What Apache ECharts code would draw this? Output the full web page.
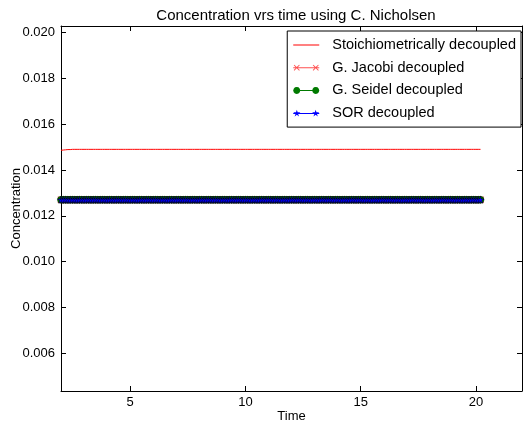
<!DOCTYPE html>
<html>
<head>
<meta charset="utf-8">
<script src="https://cdn.jsdelivr.net/npm/echarts@6/dist/echarts.min.js"></script>
<style>html,body{margin:0;padding:0;background:#fff}#c{width:531px;height:425px}</style>
</head>
<body>
<div id="c"></div>
<script>
const titleText = 'Concentration vrs time using C. Nicholsen';
const seriesNames = ['Stoichiometrically decoupled', 'G. Jacobi decoupled', 'G. Seidel decoupled', 'SOR decoupled'];
const xTicks = [5, 10, 15, 20];
const yTicks = [0.006, 0.008, 0.010, 0.012, 0.014, 0.016, 0.018, 0.020];

const time = [
  2.0,2.1,2.2,2.3,2.4,2.5,2.6,2.7,2.8,2.9,
  3.0,3.1,3.2,3.3,3.4,3.5,3.6,3.7,3.8,3.9,
  4.0,4.1,4.2,4.3,4.4,4.5,4.6,4.7,4.8,4.9,
  5.0,5.1,5.2,5.3,5.4,5.5,5.6,5.7,5.8,5.9,
  6.0,6.1,6.2,6.3,6.4,6.5,6.6,6.7,6.8,6.9,
  7.0,7.1,7.2,7.3,7.4,7.5,7.6,7.7,7.8,7.9,
  8.0,8.1,8.2,8.3,8.4,8.5,8.6,8.7,8.8,8.9,
  9.0,9.1,9.2,9.3,9.4,9.5,9.6,9.7,9.8,9.9,
  10.0,10.1,10.2,10.3,10.4,10.5,10.6,10.7,10.8,10.9,
  11.0,11.1,11.2,11.3,11.4,11.5,11.6,11.7,11.8,11.9,
  12.0,12.1,12.2,12.3,12.4,12.5,12.6,12.7,12.8,12.9,
  13.0,13.1,13.2,13.3,13.4,13.5,13.6,13.7,13.8,13.9,
  14.0,14.1,14.2,14.3,14.4,14.5,14.6,14.7,14.8,14.9,
  15.0,15.1,15.2,15.3,15.4,15.5,15.6,15.7,15.8,15.9,
  16.0,16.1,16.2,16.3,16.4,16.5,16.6,16.7,16.8,16.9,
  17.0,17.1,17.2,17.3,17.4,17.5,17.6,17.7,17.8,17.9,
  18.0,18.1,18.2,18.3,18.4,18.5,18.6,18.7,18.8,18.9,
  19.0,19.1,19.2,19.3,19.4,19.5,19.6,19.7,19.8,19.9,
  20.0,20.1,20.2
];
const stoich = [
  0.01486,0.01487,0.01488,0.01489,0.01489,0.0149,0.0149,0.0149,0.0149,0.0149,
  0.0149,0.0149,0.0149,0.0149,0.0149,0.0149,0.0149,0.0149,0.0149,0.0149,
  0.0149,0.0149,0.0149,0.0149,0.0149,0.0149,0.0149,0.0149,0.0149,0.0149,
  0.0149,0.0149,0.0149,0.0149,0.0149,0.0149,0.0149,0.0149,0.0149,0.0149,
  0.0149,0.0149,0.0149,0.0149,0.0149,0.0149,0.0149,0.0149,0.0149,0.0149,
  0.0149,0.0149,0.0149,0.0149,0.0149,0.0149,0.0149,0.0149,0.0149,0.0149,
  0.0149,0.0149,0.0149,0.0149,0.0149,0.0149,0.0149,0.0149,0.0149,0.0149,
  0.0149,0.0149,0.0149,0.0149,0.0149,0.0149,0.0149,0.0149,0.0149,0.0149,
  0.0149,0.0149,0.0149,0.0149,0.0149,0.0149,0.0149,0.0149,0.0149,0.0149,
  0.0149,0.0149,0.0149,0.0149,0.0149,0.0149,0.0149,0.0149,0.0149,0.0149,
  0.0149,0.0149,0.0149,0.0149,0.0149,0.0149,0.0149,0.0149,0.0149,0.0149,
  0.0149,0.0149,0.0149,0.0149,0.0149,0.0149,0.0149,0.0149,0.0149,0.0149,
  0.0149,0.0149,0.0149,0.0149,0.0149,0.0149,0.0149,0.0149,0.0149,0.0149,
  0.0149,0.0149,0.0149,0.0149,0.0149,0.0149,0.0149,0.0149,0.0149,0.0149,
  0.0149,0.0149,0.0149,0.0149,0.0149,0.0149,0.0149,0.0149,0.0149,0.0149,
  0.0149,0.0149,0.0149,0.0149,0.0149,0.0149,0.0149,0.0149,0.0149,0.0149,
  0.0149,0.0149,0.0149,0.0149,0.0149,0.0149,0.0149,0.0149,0.0149,0.0149,
  0.0149,0.0149,0.0149,0.0149,0.0149,0.0149,0.0149,0.0149,0.0149,0.0149,
  0.0149,0.0149,0.0149
];
const jacobi = [
  0.0127,0.0127,0.0127,0.0127,0.0127,0.0127,0.0127,0.0127,0.0127,0.0127,
  0.0127,0.0127,0.0127,0.0127,0.0127,0.0127,0.0127,0.0127,0.0127,0.0127,
  0.0127,0.0127,0.0127,0.0127,0.0127,0.0127,0.0127,0.0127,0.0127,0.0127,
  0.0127,0.0127,0.0127,0.0127,0.0127,0.0127,0.0127,0.0127,0.0127,0.0127,
  0.0127,0.0127,0.0127,0.0127,0.0127,0.0127,0.0127,0.0127,0.0127,0.0127,
  0.0127,0.0127,0.0127,0.0127,0.0127,0.0127,0.0127,0.0127,0.0127,0.0127,
  0.0127,0.0127,0.0127,0.0127,0.0127,0.0127,0.0127,0.0127,0.0127,0.0127,
  0.0127,0.0127,0.0127,0.0127,0.0127,0.0127,0.0127,0.0127,0.0127,0.0127,
  0.0127,0.0127,0.0127,0.0127,0.0127,0.0127,0.0127,0.0127,0.0127,0.0127,
  0.0127,0.0127,0.0127,0.0127,0.0127,0.0127,0.0127,0.0127,0.0127,0.0127,
  0.0127,0.0127,0.0127,0.0127,0.0127,0.0127,0.0127,0.0127,0.0127,0.0127,
  0.0127,0.0127,0.0127,0.0127,0.0127,0.0127,0.0127,0.0127,0.0127,0.0127,
  0.0127,0.0127,0.0127,0.0127,0.0127,0.0127,0.0127,0.0127,0.0127,0.0127,
  0.0127,0.0127,0.0127,0.0127,0.0127,0.0127,0.0127,0.0127,0.0127,0.0127,
  0.0127,0.0127,0.0127,0.0127,0.0127,0.0127,0.0127,0.0127,0.0127,0.0127,
  0.0127,0.0127,0.0127,0.0127,0.0127,0.0127,0.0127,0.0127,0.0127,0.0127,
  0.0127,0.0127,0.0127,0.0127,0.0127,0.0127,0.0127,0.0127,0.0127,0.0127,
  0.0127,0.0127,0.0127,0.0127,0.0127,0.0127,0.0127,0.0127,0.0127,0.0127,
  0.0127,0.0127,0.0127
];
const seidel = [
  0.0127,0.0127,0.0127,0.0127,0.0127,0.0127,0.0127,0.0127,0.0127,0.0127,
  0.0127,0.0127,0.0127,0.0127,0.0127,0.0127,0.0127,0.0127,0.0127,0.0127,
  0.0127,0.0127,0.0127,0.0127,0.0127,0.0127,0.0127,0.0127,0.0127,0.0127,
  0.0127,0.0127,0.0127,0.0127,0.0127,0.0127,0.0127,0.0127,0.0127,0.0127,
  0.0127,0.0127,0.0127,0.0127,0.0127,0.0127,0.0127,0.0127,0.0127,0.0127,
  0.0127,0.0127,0.0127,0.0127,0.0127,0.0127,0.0127,0.0127,0.0127,0.0127,
  0.0127,0.0127,0.0127,0.0127,0.0127,0.0127,0.0127,0.0127,0.0127,0.0127,
  0.0127,0.0127,0.0127,0.0127,0.0127,0.0127,0.0127,0.0127,0.0127,0.0127,
  0.0127,0.0127,0.0127,0.0127,0.0127,0.0127,0.0127,0.0127,0.0127,0.0127,
  0.0127,0.0127,0.0127,0.0127,0.0127,0.0127,0.0127,0.0127,0.0127,0.0127,
  0.0127,0.0127,0.0127,0.0127,0.0127,0.0127,0.0127,0.0127,0.0127,0.0127,
  0.0127,0.0127,0.0127,0.0127,0.0127,0.0127,0.0127,0.0127,0.0127,0.0127,
  0.0127,0.0127,0.0127,0.0127,0.0127,0.0127,0.0127,0.0127,0.0127,0.0127,
  0.0127,0.0127,0.0127,0.0127,0.0127,0.0127,0.0127,0.0127,0.0127,0.0127,
  0.0127,0.0127,0.0127,0.0127,0.0127,0.0127,0.0127,0.0127,0.0127,0.0127,
  0.0127,0.0127,0.0127,0.0127,0.0127,0.0127,0.0127,0.0127,0.0127,0.0127,
  0.0127,0.0127,0.0127,0.0127,0.0127,0.0127,0.0127,0.0127,0.0127,0.0127,
  0.0127,0.0127,0.0127,0.0127,0.0127,0.0127,0.0127,0.0127,0.0127,0.0127,
  0.0127,0.0127,0.0127
];
const sor = [
  0.0127,0.0127,0.0127,0.0127,0.0127,0.0127,0.0127,0.0127,0.0127,0.0127,
  0.0127,0.0127,0.0127,0.0127,0.0127,0.0127,0.0127,0.0127,0.0127,0.0127,
  0.0127,0.0127,0.0127,0.0127,0.0127,0.0127,0.0127,0.0127,0.0127,0.0127,
  0.0127,0.0127,0.0127,0.0127,0.0127,0.0127,0.0127,0.0127,0.0127,0.0127,
  0.0127,0.0127,0.0127,0.0127,0.0127,0.0127,0.0127,0.0127,0.0127,0.0127,
  0.0127,0.0127,0.0127,0.0127,0.0127,0.0127,0.0127,0.0127,0.0127,0.0127,
  0.0127,0.0127,0.0127,0.0127,0.0127,0.0127,0.0127,0.0127,0.0127,0.0127,
  0.0127,0.0127,0.0127,0.0127,0.0127,0.0127,0.0127,0.0127,0.0127,0.0127,
  0.0127,0.0127,0.0127,0.0127,0.0127,0.0127,0.0127,0.0127,0.0127,0.0127,
  0.0127,0.0127,0.0127,0.0127,0.0127,0.0127,0.0127,0.0127,0.0127,0.0127,
  0.0127,0.0127,0.0127,0.0127,0.0127,0.0127,0.0127,0.0127,0.0127,0.0127,
  0.0127,0.0127,0.0127,0.0127,0.0127,0.0127,0.0127,0.0127,0.0127,0.0127,
  0.0127,0.0127,0.0127,0.0127,0.0127,0.0127,0.0127,0.0127,0.0127,0.0127,
  0.0127,0.0127,0.0127,0.0127,0.0127,0.0127,0.0127,0.0127,0.0127,0.0127,
  0.0127,0.0127,0.0127,0.0127,0.0127,0.0127,0.0127,0.0127,0.0127,0.0127,
  0.0127,0.0127,0.0127,0.0127,0.0127,0.0127,0.0127,0.0127,0.0127,0.0127,
  0.0127,0.0127,0.0127,0.0127,0.0127,0.0127,0.0127,0.0127,0.0127,0.0127,
  0.0127,0.0127,0.0127,0.0127,0.0127,0.0127,0.0127,0.0127,0.0127,0.0127,
  0.0127,0.0127,0.0127
];

const pairs = arr => time.map((t, i) => [t, arr[i]]);
const FONT = '"Liberation Sans", Arial, sans-serif';
const crossPath = 'path://M0,1L1,0L5,4L9,0L10,1L6,5L10,9L9,10L5,6L1,10L0,9L4,5Z';
const starPath = 'path://M5,0L6.123,3.455L9.755,3.455L6.816,5.59L7.939,9.045L5,6.91L2.061,9.045L3.184,5.59L0.245,3.455L3.877,3.455Z';

// legend icons in the matplotlib style: a short line with a marker at each end
const iconLine = 'M0,3.5L26,3.5L26,4.5L0,4.5Z';
const iconStoich = 'path://' + iconLine;
const iconJacobi = 'path://' + iconLine +
  'M0.5,1.6L1.1,1L3.5,3.4L5.9,1L6.5,1.6L4.1,4L6.5,6.4L5.9,7L3.5,4.6L1.1,7L0.5,6.4L2.9,4Z' +
  'M19.5,1.6L20.1,1L22.5,3.4L24.9,1L25.5,1.6L23.1,4L25.5,6.4L24.9,7L22.5,4.6L20.1,7L19.5,6.4L21.9,4Z';
const iconSeidel = 'path://' + iconLine +
  'M7,4L6.531,5.75L5.25,7.031L3.5,7.5L1.75,7.031L0.469,5.75L0,4L0.469,2.25L1.75,0.969L3.5,0.5L5.25,0.969L6.531,2.25Z' +
  'M26,4L25.531,5.75L24.25,7.031L22.5,7.5L20.75,7.031L19.469,5.75L19,4L19.469,2.25L20.75,0.969L22.5,0.5L24.25,0.969L25.531,2.25Z';
const iconSor = 'path://' + iconLine +
  'M3.6,0.3L4.431,2.857L7.119,2.857L4.944,4.437L5.775,6.993L3.6,5.413L1.425,6.993L2.256,4.437L0.081,2.857L2.769,2.857Z' +
  'M22.4,0.3L23.231,2.857L25.919,2.857L23.744,4.437L24.575,6.993L22.4,5.413L20.225,6.993L21.056,4.437L18.881,2.857L21.569,2.857Z';

const chart = echarts.init(document.getElementById('c'), null, {renderer: 'canvas'});
const axisCommonX = {
  type: 'value', min: 2, max: 22,
  axisLine: {show: true, lineStyle: {color: '#000', width: 1}},
  axisTick: {show: true, inside: true, length: 5, customValues: xTicks, lineStyle: {color: '#000'}},
  splitLine: {show: false}
};
const axisCommonY = {
  type: 'value', min: 0.00436, max: 0.02028,
  axisLine: {show: true, lineStyle: {color: '#000', width: 1}},
  axisTick: {show: true, inside: true, length: 5, customValues: yTicks, lineStyle: {color: '#000'}},
  splitLine: {show: false}
};
chart.setOption({
  animation: false,
  backgroundColor: '#fff',
  textStyle: {fontFamily: FONT},
  title: {
    text: titleText, left: 291, top: 3, textAlign: 'center',
    textStyle: {fontFamily: FONT, fontSize: 15, fontWeight: 'normal', color: '#000'}
  },
  grid: {left: 61, right: 9, top: 26, bottom: 34, containLabel: false, outerBoundsMode: 'none'},
  legend: {
    orient: 'vertical', right: 10, top: 31,
    data: [
      {name: seriesNames[0], icon: iconStoich, itemStyle: {color: '#ff0000', borderWidth: 0}},
      {name: seriesNames[1], icon: iconJacobi, itemStyle: {color: '#ff5050', borderWidth: 0}},
      {name: seriesNames[2], icon: iconSeidel, itemStyle: {color: '#007a00', borderWidth: 0}},
      {name: seriesNames[3], icon: iconSor, itemStyle: {color: '#0000ff', borderWidth: 0}}
    ],
    itemWidth: 26, itemHeight: 8, itemGap: 6.7,
    padding: [6, 5, 6, 6],
    borderColor: '#000', borderWidth: 1, borderRadius: 0,
    backgroundColor: '#fff',
    textStyle: {fontFamily: FONT, fontSize: 14.5, color: '#000', lineHeight: 16, padding: [0, 0, 0, 8]}
  },
  xAxis: [
    Object.assign({}, axisCommonX, {
      position: 'bottom',
      name: 'Time', nameLocation: 'middle', nameGap: 19, nameMoveOverlap: false,
      nameTextStyle: {fontFamily: FONT, fontSize: 13, color: '#000'},
      axisLabel: {show: true, customValues: xTicks, margin: 5, fontFamily: FONT, fontSize: 13, color: '#000'}
    }),
    Object.assign({}, axisCommonX, {position: 'top', axisLabel: {show: false}})
  ],
  yAxis: [
    Object.assign({}, axisCommonY, {
      position: 'left',
      name: 'Concentration', nameLocation: 'middle', nameGap: 38, nameMoveOverlap: false,
      nameTextStyle: {fontFamily: FONT, fontSize: 13, color: '#000'},
      axisLabel: {show: true, customValues: yTicks, margin: 6, fontFamily: FONT, fontSize: 13, color: '#000',
        formatter: v => v.toFixed(3)}
    }),
    Object.assign({}, axisCommonY, {position: 'right', axisLabel: {show: false}})
  ],
  series: [
    {
      name: seriesNames[0], type: 'line', data: pairs(stoich),
      showSymbol: false, symbol: 'none',
      lineStyle: {color: '#ff0000', width: 1}, itemStyle: {color: '#ff0000'}
    },
    {
      name: seriesNames[1], type: 'line', data: pairs(jacobi),
      showAllSymbol: true, symbol: crossPath, symbolSize: 7,
      lineStyle: {color: '#ff5050', width: 1}, itemStyle: {color: '#ff5050'}
    },
    {
      name: seriesNames[2], type: 'line', data: pairs(seidel),
      showAllSymbol: true, symbol: 'circle', symbolSize: 7,
      lineStyle: {color: '#008000', width: 1}, itemStyle: {color: '#008000', borderColor: '#000', borderWidth: 0.5}
    },
    {
      name: seriesNames[3], type: 'line', data: pairs(sor),
      showAllSymbol: true, symbol: starPath, symbolSize: 7,
      lineStyle: {color: '#0000ff', width: 1}, itemStyle: {color: '#0000ff', borderColor: '#000', borderWidth: 0.5}
    }
  ]
});
</script>
</body>
</html>
